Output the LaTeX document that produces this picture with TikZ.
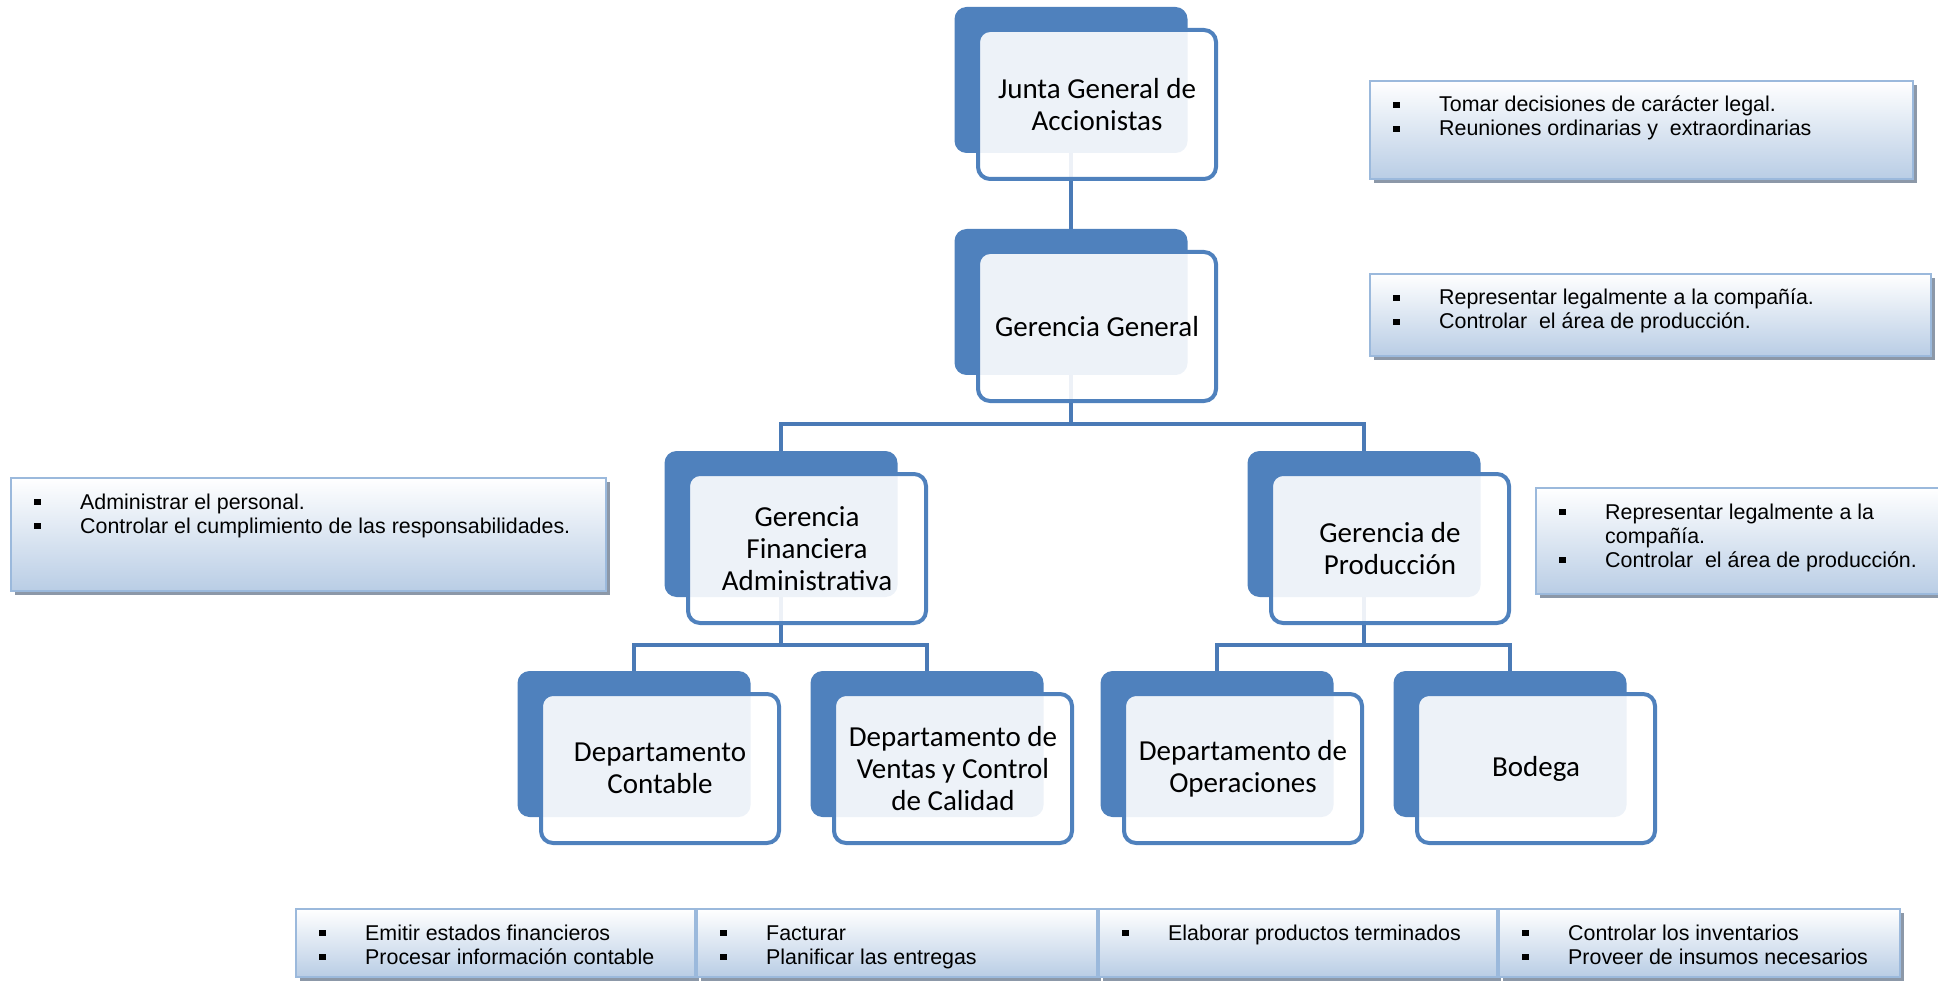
\documentclass[tikz,border=0pt]{standalone}
\usepackage{fontspec}
\usetikzlibrary{positioning,shadows,backgrounds}
\newfontfamily\boxfont{Carlito}
\newfontfamily\descfont{Liberation Sans}
\definecolor{orgblue}{RGB}{79,129,189}
\definecolor{linkblue}{RGB}{74,122,182}
\definecolor{descline}{RGB}{155,185,220}
\definecolor{descbot}{RGB}{185,205,229}
\definecolor{descshadow}{RGB}{140,152,168}
\newcommand\bul{\makebox[46pt][l]{\rule[3.8pt]{6.5pt}{6.5pt}}\strut}
\newcommand\orgbox[3]{\node[back](#1)at(#2){};\node[front](#1-f)at(#1){#3};}
\begin{document}
\begin{tikzpicture}[x=1pt,y=-1pt,
back/.style={fill=orgblue,rounded corners=12pt,minimum width=233pt,minimum height=146pt,inner sep=0pt},
front/.style={draw=orgblue,line width=4pt,fill=white,fill opacity=0.9,text opacity=1,rounded corners=12pt,minimum width=238pt,minimum height=149pt,inner sep=0pt,xshift=26pt,yshift=-24.5pt,align=center,font=\boxfont\fontsize{29}{32}\selectfont},
link/.style={draw=linkblue,line width=4.5pt},
desc/.style={draw=descline,line width=2pt,top color=white,bottom color=descbot,anchor=north west,inner sep=0pt,drop shadow={shadow xshift=4pt,shadow yshift=-4pt,fill=descshadow,opacity=1}},
desctxt/.style={inner sep=0pt,align=left,font=\descfont\fontsize{21.4}{24}\selectfont,below right=15pt and 24pt of #1.north west}]
\useasboundingbox(0,0)rectangle(1938,981);
\orgbox{junta}{1071,80}{Junta General de\\Accionistas}
\orgbox{gergen}{1071,302}{Gerencia General}
\orgbox{finan}{781,524}{Gerencia\\Financiera\\Administrativa}
\orgbox{produ}{1364,524}{Gerencia de\\Producción}
\orgbox{conta}{634,744}{Departamento\\Contable}
\orgbox{venta}{927,744}{Departamento de\\Ventas y Control\\de Calidad}
\orgbox{opera}{1217,744}{Departamento de\\Operaciones}
\orgbox{bodeg}{1510,744}{Bodega}
\begin{scope}[on background layer]
\draw[link](junta.south)--(gergen.north);
\draw[link](gergen.south)--++(0,49) (finan.north)--++(0,-27)-|(produ.north);
\draw[link](finan.south)--++(0,48) (conta.north)--++(0,-26)-|(venta.north);
\draw[link](produ.south)--++(0,48) (opera.north)--++(0,-26)-|(bodeg.north);
\end{scope}
\node[desc,minimum width=543pt,minimum height=98pt](d1)at(1369,80){};
\node[desctxt=d1](d1-t){\bul Tomar decisiones de carácter legal.\\\bul Reuniones ordinarias y~ extraordinarias};
\node[desc,minimum width=561pt,minimum height=82pt](d2)at(1369,273){};
\node[desctxt=d2](d2-t){\bul Representar legalmente a la compañía.\\\bul Controlar~ el área de producción.};
\node[desc,minimum width=595pt,minimum height=113pt](d3)at(10,477){};
\node[desctxt=d3](d3-t){\bul Administrar el personal.\\\bul Controlar el cumplimiento de las responsabilidades.};
\node[desc,minimum width=413pt,minimum height=106pt](d4)at(1535,487){};
\node[desctxt=d4](d4-t){\bul Representar legalmente a la\\\hspace*{46pt}\strut compañía.\\\bul Controlar~ el área de producción.};
\node[desc,minimum width=399pt,minimum height=68pt](c1)at(295,908){};
\node[desctxt=c1](c1-t){\bul Emitir estados financieros\\\bul Procesar información contable};
\node[desc,minimum width=400pt,minimum height=68pt](c2)at(696,908){};
\node[desctxt=c2](c2-t){\bul Facturar\\\bul Planificar las entregas};
\node[desc,minimum width=398pt,minimum height=68pt](c3)at(1098,908){};
\node[desctxt=c3](c3-t){\bul Elaborar productos terminados};
\node[desc,minimum width=401pt,minimum height=68pt](c4)at(1498,908){};
\node[desctxt=c4](c4-t){\bul Controlar los inventarios\\\bul Proveer de insumos necesarios};
\end{tikzpicture}
\end{document}
